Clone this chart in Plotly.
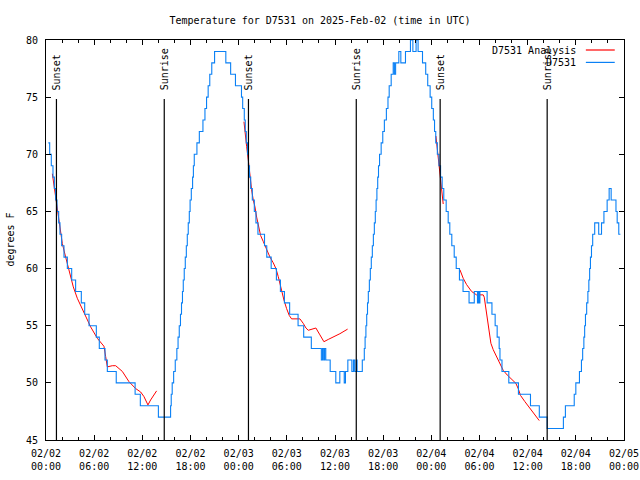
import plotly.graph_objects as go
import pandas as pd

START = pd.Timestamp("2025-02-02 00:00")

# Observed temperature (D7531): hours since start, degrees F (step changes)
blue_hours = [0.29, 0.46, 0.66, 0.87, 1.04, 1.2, 1.37, 1.58, 1.74, 1.95, 2.24, 2.66, 3.2, 3.69, 4.4, 4.82,
              5.36, 6.27, 6.64, 7.35, 7.64, 8.75, 11.1, 11.75, 14.0,
              15.52, 15.6, 15.72, 15.9, 16.1, 16.3, 16.45, 16.6, 16.75, 16.88, 17.0, 17.1, 17.22, 17.35,
              17.48, 17.6, 17.72, 17.85, 17.95, 18.1, 18.26, 18.36, 18.47, 18.8, 19.1, 19.55, 19.8, 20.0,
              20.2, 20.4, 20.65, 21.0, 22.4, 23.0, 23.6, 24.35, 24.5, 24.7, 24.82, 24.95, 25.1, 25.22,
              25.35, 25.5, 25.7, 25.95, 26.15, 26.4, 27.22, 27.5, 28.05, 28.7, 29.2, 29.7, 30.35, 31.4,
              32.1, 33.05, 34.3, 34.45, 34.6, 34.7, 34.85, 35.4, 36.1, 36.6, 37.15, 37.3, 37.6, 38.1,
              38.3, 38.45, 38.65, 38.75, 39.4, 39.65, 39.75, 39.85, 39.95, 40.05, 40.15, 40.28, 40.4,
              40.52, 40.65, 40.78, 40.9, 41.02, 41.12, 41.22, 41.32, 41.42, 41.55, 41.75, 41.95, 42.15,
              42.4, 42.6, 42.75, 43.0, 43.25, 43.4, 43.55, 43.95, 44.2, 44.78, 45.4, 45.7, 46.1, 46.35,
              46.9, 47.3, 47.55, 47.85, 48.05, 48.25, 48.4, 48.55, 48.75, 48.95, 49.15, 49.35, 49.55,
              49.85, 50.1, 50.3, 50.55, 50.85, 51.1, 51.5, 51.95, 52.7, 53.35, 53.75, 53.85, 53.95,
              54.05, 54.95, 55.55, 55.95, 56.2, 56.45, 56.55, 56.8, 57.65, 58.85, 60.35, 61.45, 62.43,
              64.45, 64.7, 65.8, 66.0, 66.45, 66.7, 66.85, 67.0, 67.1, 67.2, 67.35, 67.5, 67.62, 67.72,
              67.82, 67.95, 68.1, 68.35, 68.85, 69.2, 69.5, 69.9, 70.15, 70.4, 71.0, 71.15, 71.35, 71.55]
blue_temps = [71, 70, 69, 68, 67, 66, 65, 64, 63, 62, 61, 60, 59, 58, 57, 56,
              55, 54, 53, 52, 51, 50, 49, 48, 47,
              48, 49, 50, 51, 52, 53, 54, 55, 56, 57, 58, 59, 60, 61,
              62, 63, 64, 65, 66, 67, 68, 69, 70, 71, 72, 73, 74, 75,
              76, 77, 78, 79, 78, 77, 76, 75, 74, 73, 72, 71, 70, 69,
              68, 67, 66, 65, 64, 63, 62, 61, 60, 59, 58, 57, 56, 55,
              54, 53, 52, 53, 52, 53, 52, 51, 50, 51, 50, 51, 52, 51,
              52, 51, 52, 51, 52, 53, 54, 55, 56, 57, 58, 59, 60,
              61, 62, 63, 64, 65, 66, 67, 68, 69, 70, 71, 72, 73,
              74, 75, 76, 77, 78, 77, 78, 79, 78, 79, 80, 79, 80, 79,
              78, 77, 76, 75, 74, 73, 72, 71, 70, 69, 68, 67, 66,
              65, 64, 63, 62, 61, 60, 59, 58, 57, 58, 57, 58, 57,
              58, 57, 56, 55, 54, 53, 52, 51, 50, 49, 48, 47, 46,
              47, 48, 49, 50, 51, 52, 53, 54, 55, 56, 57, 58, 59, 60,
              61, 62, 63, 64, 63, 64, 65, 66, 67, 66, 65, 64, 63, 63]

# Analysis (D7531 Analysis), in separate evening runs
red1_hours = [0.79, 1.2, 1.54, 2.03, 2.45, 2.86, 3.4, 3.9, 4.73, 5.56, 6.39, 7.22, 7.43, 7.64, 8.26,
              8.68, 9.51, 10.34, 11.17, 11.79, 12.2, 12.7, 13.03, 13.78]
red1_temps = [68.3, 66.3, 64.25, 62.2, 61.0, 59.9, 58.4, 57.4, 56.2, 54.9, 53.9, 53.2, 52.3, 51.4, 51.5,
              51.5, 51.0, 50.1, 49.5, 49.2, 48.8, 48.07, 48.5, 49.3]
red2_hours = [24.66, 24.78, 24.99, 25.2, 25.4, 25.61, 25.82, 26.03, 26.24, 26.44, 26.73, 27.07, 27.48,
              27.9, 28.31, 28.64, 28.93, 29.14, 29.35, 29.64, 29.97, 30.3, 30.59, 31.63, 32.05, 32.38,
              32.67, 33.08, 33.62, 34.12, 34.62, 35.16, 35.78, 36.61, 37.57]
red2_temps = [72.85, 71.8, 70.7, 69.5, 68.0, 66.9, 66.0, 65.4, 64.5, 63.7, 62.9, 62.36, 61.6,
              61.0, 60.5, 60.0, 59.3, 58.6, 58.0, 57.25, 56.5, 55.9, 55.6, 55.6, 55.2, 54.8,
              54.6, 54.7, 54.8, 54.2, 53.6, 53.8, 54.0, 54.3, 54.7]
red3_hours = [48.57, 48.8, 49.0, 49.2, 49.48]
red3_temps = [71.6, 70.2, 68.6, 67.4, 65.65]
red4_hours = [51.56, 51.97, 52.39, 53.01, 53.63, 54.46, 54.59, 54.8, 55.0, 55.21, 55.42, 55.71, 56.12,
              56.54, 56.95, 57.45, 57.99, 58.53, 58.82, 59.11, 59.65, 60.27, 60.9, 61.44]
red4_temps = [59.9, 59.15, 58.6, 58.0, 57.7, 57.7, 57.5, 56.4, 55.2, 54.3, 53.46, 52.9, 52.3,
              51.7, 51.1, 50.69, 50.3, 49.96, 49.5, 48.9, 48.36, 47.78, 47.2, 46.7]

sunset_hours = [1.3, 25.22, 49.1]
sunrise_hours = [14.73, 38.65, 62.43]

y_range = [45, 80]
x_span_hours = 72
marker_top = 74.84
label_base = 75.45


def ts(h):
    return START + pd.Timedelta(hours=h)


red_x, red_y = [], []
for hs, vs in [(red1_hours, red1_temps), (red2_hours, red2_temps),
               (red3_hours, red3_temps), (red4_hours, red4_temps)]:
    red_x += [ts(h) for h in hs] + [None]
    red_y += list(vs) + [None]

FONT = "DejaVu Sans Mono"
RED = "#ff0000"
BLUE = "#0a80f5"

fig = go.Figure()
fig.add_trace(go.Scatter(x=red_x, y=red_y, mode="lines", line=dict(color=RED, width=1),
                         connectgaps=False, showlegend=False, name="D7531 Analysis"))
fig.add_trace(go.Scatter(x=[ts(h) for h in blue_hours], y=blue_temps, mode="lines",
                         line=dict(color=BLUE, width=1.1, shape="hv"), showlegend=False, name="D7531"))

for label, hours in [("Sunset", sunset_hours), ("Sunrise", sunrise_hours)]:
    for h in hours:
        fig.add_shape(type="line", xref="x", yref="y", x0=ts(h), x1=ts(h), y0=y_range[0], y1=marker_top,
                      line=dict(color="black", width=1.2))
        fig.add_annotation(x=ts(h), y=label_base, xref="x", yref="y", text=label, textangle=-90,
                           showarrow=False, xanchor="center", yanchor="bottom",
                           font=dict(family=FONT, size=10, color="black"))

# gnuplot-style key (text then line sample)
for i, (name, col) in enumerate([("D7531 Analysis", RED), ("D7531", BLUE)]):
    yp = 0.975 - i * 0.031
    fig.add_annotation(x=0.921, y=yp, xref="paper", yref="paper", text=name, showarrow=False,
                       xanchor="right", yanchor="middle", font=dict(family=FONT, size=10, color="black"))
    fig.add_shape(type="line", xref="paper", yref="paper", x0=0.934, x1=0.984, y0=yp, y1=yp,
                  line=dict(color=col, width=1.2))

fig.add_annotation(x=-0.063, y=0.5, xref="paper", yref="paper", text="degrees F", textangle=-90,
                   showarrow=False, xanchor="center", yanchor="middle",
                   font=dict(family=FONT, size=10, color="black"))

fig.update_layout(
    width=640, height=480,
    margin=dict(l=46, r=16, t=40, b=40, autoexpand=False),
    paper_bgcolor="white", plot_bgcolor="white",
    title=dict(text="Temperature for D7531 on 2025-Feb-02 (time in UTC)", x=0.5, xanchor="center",
               y=1 - 20 / 480, yanchor="middle", yref="container", automargin=False,
               font=dict(family=FONT, size=10, color="black")),
    font=dict(family=FONT, size=10, color="black"),
)
fig.update_xaxes(type="date", range=[ts(0), ts(x_span_hours)], dtick=6 * 3600 * 1000,
                 tick0=ts(0), tickformat="%m/%d<br>%H:%M", ticks="inside", ticklen=5, tickcolor="black",
                 showline=True, linecolor="black", linewidth=1, mirror="allticks", showgrid=False,
                 zeroline=False, automargin=False, ticklabelstandoff=4,
                 tickfont=dict(family=FONT, size=10, color="black"),
                 minor=dict(dtick=2 * 3600 * 1000, ticks="inside", ticklen=3, tickcolor="black",
                            showgrid=False))
fig.update_yaxes(range=y_range, dtick=5, tick0=45, ticks="inside", ticklen=5, tickcolor="black",
                 showline=True, linecolor="black", linewidth=1, mirror="allticks", showgrid=False,
                 zeroline=False, automargin=False, ticklabelstandoff=5,
                 tickfont=dict(family=FONT, size=10, color="black"))

fig.write_html("out.html", config={"displayModeBar": False},
               post_script="document.body.style.margin='0px';")
